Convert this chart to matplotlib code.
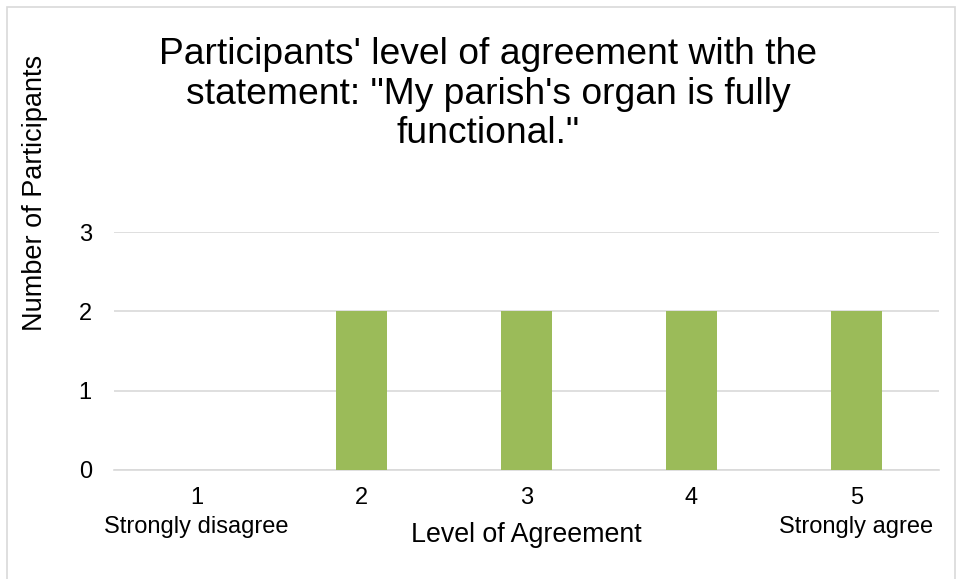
import matplotlib.pyplot as plt
from matplotlib.patches import Rectangle

plt.rcParams['font.family'] = ['Liberation Sans', 'DejaVu Sans']

levels = [1, 2, 3, 4, 5]
counts = [0, 2, 2, 2, 2]
tick_labels = ["1\nStrongly disagree", "2", "3", "4", "5\nStrongly agree"]
title = "Participants' level of agreement with the\nstatement: \"My parish's organ is fully\nfunctional.\""

W, H = 956, 579
fig = plt.figure(figsize=(W / 100, H / 100), dpi=100)

# light frame around the chart area
fig.patches.append(Rectangle((7 / W, -0.1), (W - 8) / W, 1.1 - 7 / H,
                             transform=fig.transFigure, fill=False,
                             edgecolor='#d9d9d9', linewidth=1.2))

ax = fig.add_axes([114 / W, (H - 470) / H, 825 / W, 238 / H])
ax.bar(levels, counts, width=0.315, color='#9bbb59', zorder=3)

ax.set_xlim(0.5, 5.5)
ax.set_ylim(0, 3)
ax.set_yticks([0, 1, 2, 3])
ax.set_xticks(levels)
ax.set_xticklabels(tick_labels, fontsize=17, linespacing=1.45, va='top')
ax.tick_params(axis='y', length=0, pad=16, labelsize=17)
ax.tick_params(axis='x', length=0, pad=12)
ax.grid(axis='y', color='#d9d9d9', linewidth=1.2, zorder=0)
for side in ['top', 'right', 'left']:
    ax.spines[side].set_visible(False)
ax.spines['bottom'].set_color('#d9d9d9')
ax.spines['bottom'].set_linewidth(1.2)

ax.set_xlabel("Level of Agreement", fontsize=19.3)
ax.xaxis.label.set_va('center')
ax.xaxis.set_label_coords(526 / W, (H - 535) / H, transform=fig.transFigure)

ax.set_ylabel("Number of Participants", fontsize=19.5)
ax.yaxis.label.set_va('center')
ax.yaxis.set_label_coords(35 / W, (H - 193) / H, transform=fig.transFigure)

fig.text(488 / W, (H - 94) / H, title, ha='center', va='center',
         fontsize=26.8, linespacing=1.18)

fig.savefig('out.png', dpi=100)
